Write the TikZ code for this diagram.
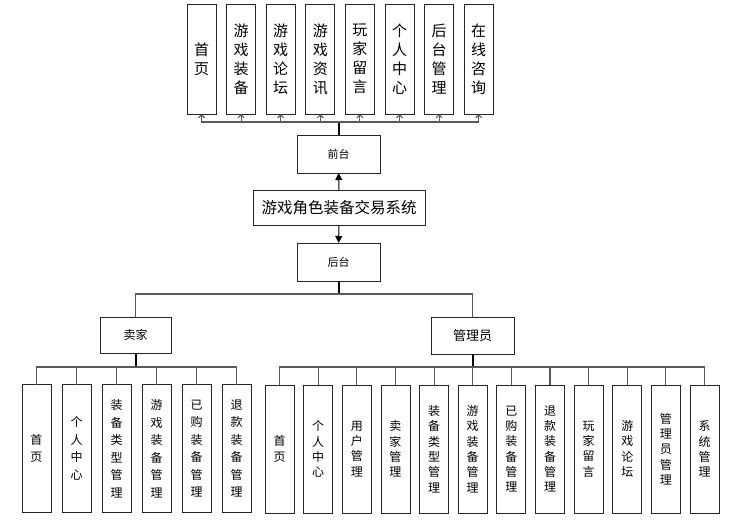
\documentclass[tikz,border=0pt]{standalone}
\usepackage{fontspec}
\setmainfont{Noto Sans CJK SC}
\usetikzlibrary{arrows.meta}

\begin{document}
\begin{tikzpicture}[x=1pt, y=-1pt,
		box/.style={draw=black!85, line width=0.8pt, fill=white, inner sep=0pt, outer sep=0pt, align=center},
		topbox/.style={box, minimum width=29pt, minimum height=110pt, font=\fontsize{15}{19}\selectfont},
		leafbox/.style={box, minimum width=29pt, minimum height=128pt, font=\fontsize{12}{17.5}\selectfont},
		adminbox/.style={box, minimum width=29pt, minimum height=128pt, font=\fontsize{12}{15.3}\selectfont},
		bus/.style={draw=black!65, line width=1.1pt},
		stem/.style={draw=black, line width=2pt}]
	\useasboundingbox (0,0) rectangle (737,524);
	% front end pages
	\node[topbox] (F1) at (201.5, 59) {首\\页};
	\node[topbox] (F2) at (241.1, 59) {游\\戏\\装\\备};
	\node[topbox] (F3) at (280.7, 59) {游\\戏\\论\\坛};
	\node[topbox] (F4) at (320.3, 59) {游\\戏\\资\\讯};
	\node[topbox] (F5) at (359.9, 59) {玩\\家\\留\\言};
	\node[topbox] (F6) at (399.5, 59) {个\\人\\中\\心};
	\node[topbox] (F7) at (439.1, 59) {后\\台\\管\\理};
	\node[topbox] (F8) at (478.7, 59) {在\\线\\咨\\询};
	% middle part
	\node[box, minimum width=83pt, minimum height=38pt, font=\fontsize{11}{13}\selectfont] (front) at (338.5, 154) {前台};
	\node[box, minimum width=172pt, minimum height=35pt, font=\fontsize{15.5}{18}\selectfont] (sys) at (339, 207.5) {游戏角色装备交易系统};
	\node[box, minimum width=83pt, minimum height=38pt, font=\fontsize{11}{13}\selectfont] (back) at (338.5, 262) {后台};
	\node[box, minimum width=71pt, minimum height=36pt, font=\fontsize{12}{14}\selectfont] (seller) at (135.5, 335) {卖家};
	\node[box, minimum width=83pt, minimum height=37pt, font=\fontsize{13}{15}\selectfont] (admin) at (472.5, 335.5) {管理员};
	% seller pages
	\node[leafbox] (S1) at (36.5, 448.5) {首\\页};
	\node[leafbox] (S2) at (76.5, 448.5) {个\\人\\中\\心};
	\node[leafbox] (S3) at (116.5, 448.5) {装\\备\\类\\型\\管\\理};
	\node[leafbox] (S4) at (156.5, 448.5) {游\\戏\\装\\备\\管\\理};
	\node[leafbox] (S5) at (196.5, 448.5) {已\\购\\装\\备\\管\\理};
	\node[leafbox] (S6) at (236.5, 448.5) {退\\款\\装\\备\\管\\理};
	% admin pages
	\node[adminbox] (M1) at (279.5, 449) {首\\页};
	\node[adminbox] (M2) at (318.1, 449) {个\\人\\中\\心};
	\node[adminbox] (M3) at (356.8, 449) {用\\户\\管\\理};
	\node[adminbox] (M4) at (395.4, 449) {卖\\家\\管\\理};
	\node[adminbox] (M5) at (434.1, 449) {装\\备\\类\\型\\管\\理};
	\node[adminbox] (M6) at (472.7, 449) {游\\戏\\装\\备\\管\\理};
	\node[adminbox] (M7) at (511.3, 449) {已\\购\\装\\备\\管\\理};
	\node[adminbox] (M8) at (550.0, 449) {退\\款\\装\\备\\管\\理};
	\node[adminbox] (M9) at (588.6, 449) {玩\\家\\留\\言};
	\node[adminbox] (M10) at (627.3, 449) {游\\戏\\论\\坛};
	\node[adminbox] (M11) at (665.9, 449) {管\\理\\员\\管\\理};
	\node[adminbox] (M12) at (704.5, 449) {系\\统\\管\\理};
	% connectors
	\draw[-{Triangle[length=7pt, width=7pt]}, line width=1pt] (sys) -- (front);
	\draw[-{Triangle[length=7pt, width=7pt]}, line width=1pt] (sys) -- (back);
	\draw[stem] (front.north) -- ++(0,-13) coordinate (fb);
	\foreach \i in {1,...,8}
		\draw[bus, -{Straight Barb[length=3pt, width=6pt]}] (fb) -| (F\i.south);
	\draw[stem] (back.south) -- ++(0,13) coordinate (bb);
	\draw[bus] (bb) -| (seller.north);
	\draw[bus] (bb) -| (admin.north);
	\draw[stem] (seller.south) -- ++(0,14) coordinate (sb);
	\foreach \i in {1,...,6}
		\draw[bus] (sb) -| (S\i.north);
	\draw[stem] (admin.south) -- ++(0,13) coordinate (mb);
	\foreach \i in {1,...,12}
		\draw[bus] (mb) -| (M\i.north);
\end{tikzpicture}
\end{document}
